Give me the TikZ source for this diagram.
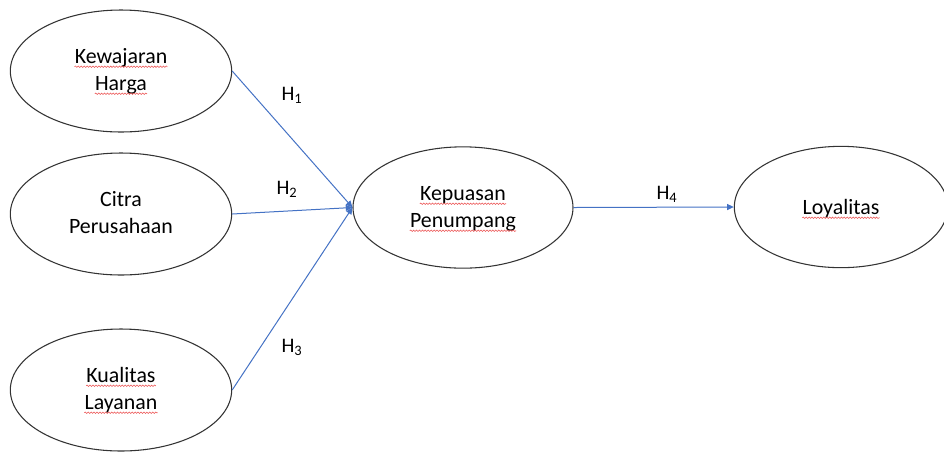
\documentclass[tikz,border=0pt]{standalone}
\usepackage{fontspec}
\setmainfont{Carlito}
\usetikzlibrary{shapes.geometric,arrows.meta,decorations.pathmorphing}
\definecolor{hypblue}{RGB}{68,114,196}
\definecolor{wavered}{RGB}{235,80,80}
\tikzset{
  construct/.style={ellipse,draw=black!80,line width=0.8pt,inner sep=0pt,
    minimum width=166pt,minimum height=91.5pt},
  word/.style={inner sep=0pt,anchor=base,font=\fontsize{16.4}{20}\selectfont},
  spell/.style={draw=wavered,line width=0.4pt,decorate,
    decoration={snake,amplitude=0.55pt,segment length=2.2pt}},
  hyp/.style={draw=hypblue,line width=0.75pt,-{Triangle[length=5pt,width=4.5pt]}},
  hlabel/.style={font=\fontsize{15.5}{18}\selectfont}
}
% red spell-check wave under a word node
\newcommand\spellcheck[1]{\draw[spell] ([yshift=2.8pt]#1.base west) -- ([yshift=2.8pt]#1.base east);}
\begin{document}
\begin{tikzpicture}[x=0.75pt,y=0.75pt,yscale=-1,xscale=1]
\useasboundingbox (0,0) rectangle (944,451);

%Ellipses
\node[construct] (kh) at (121,71) {};
\node[construct] (cp) at (121,214) {};
\node[construct] (kl) at (121,390) {};
\node[construct,minimum width=165pt,minimum height=91pt] (kp) at (463,207.5) {};
\node[construct,minimum width=160pt,minimum height=91pt] (ly) at (841,207) {};

%Texts
\node[word] (kh1) at (121,63) {Kewajaran};
\node[word] (kh2) at (121,90) {Harga};
\node[word] (cp1) at (121,206) {Citra};
\node[word] (cp2) at (121,233) {Perusahaan};
\node[word] (kl1) at (121,382) {Kualitas};
\node[word] (kl2) at (121,409) {Layanan};
\node[word] (kp1) at (463,200) {Kepuasan};
\node[word] (kp2) at (463,227) {Penumpang};
\node[word] (ly1) at (841,214) {Loyalitas};
\spellcheck{kh1}
\spellcheck{kh2}
\spellcheck{kl1}
\spellcheck{kl2}
\spellcheck{kp1}
\spellcheck{kp2}
\spellcheck{ly1}

%Hypotheses
\draw[hyp] (kh.east) -- (kp.west);
\draw[hyp] (cp.east) -- (kp.west);
\draw[hyp] (kl.east) -- (kp.west);
\draw[hyp] (kp.east) -- (ly.west);

%Labels
\node[hlabel] (h1) at (292,95) {H\textsubscript{1}};
\node[hlabel] (h2) at (287,189) {H\textsubscript{2}};
\node[hlabel] (h3) at (292,347) {H\textsubscript{3}};
\node[hlabel] (h4) at (667,194) {H\textsubscript{4}};

\end{tikzpicture}
\end{document}
